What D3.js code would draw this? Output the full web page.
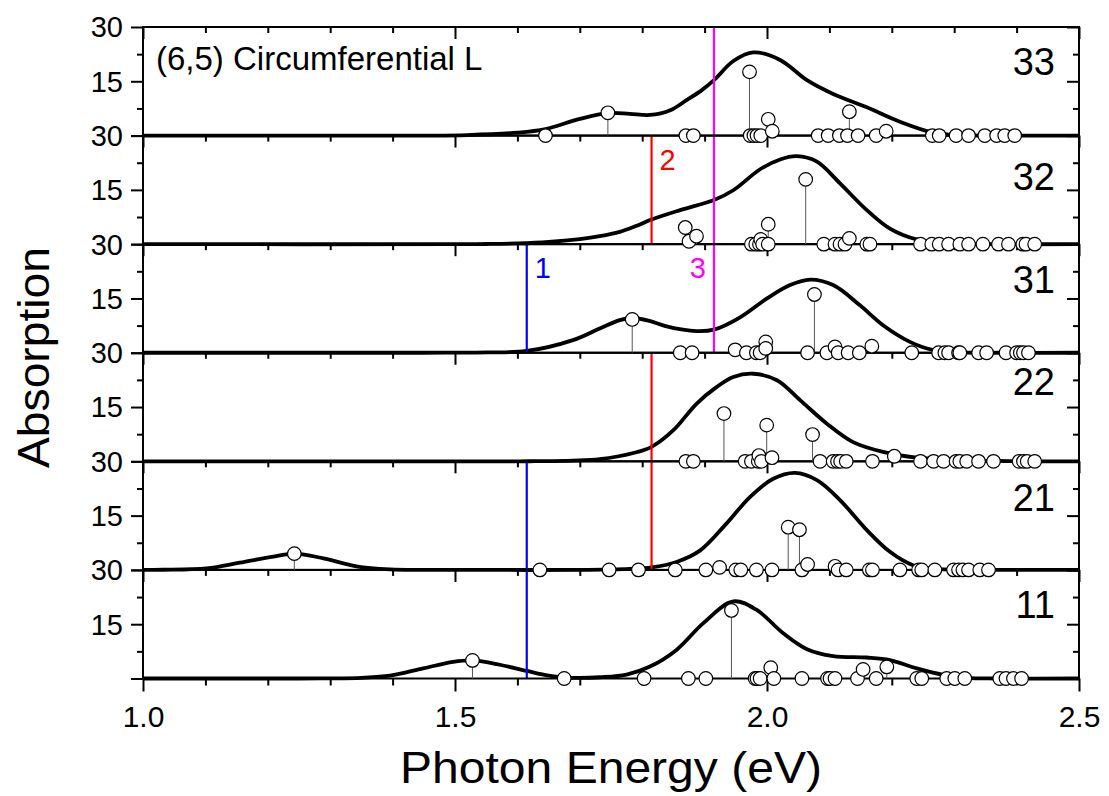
<!DOCTYPE html>
<html>
<head>
<meta charset="utf-8">
<script src="https://cdn.jsdelivr.net/npm/d3@7"></script>
<style>
  body { margin: 0; background: #fff; }
  text { font-family: Arial, "Liberation Sans", sans-serif; }
</style>
</head>
<body>
<svg id="chart" width="1109" height="796"></svg>
<script>
// Transition labels of the stacked panels, top to bottom
const panels = ["33", "32", "31", "22", "21", "11"];

// Broadened absorption curves: [photon energy (eV), absorption]
const curve33 = [[1.0,0],[1.40,0],[1.46,0],[1.52,0.15],[1.60,0.8],[1.645,1.8],[1.70,4.6],[1.745,6.2],[1.78,6.0],[1.8125,5.7],[1.845,7.0],[1.871,9.8],[1.895,12.5],[1.915,15.3],[1.946,20.6],[1.978,23.0],[2.021,20.9],[2.064,15.3],[2.106,11.5],[2.160,7.8],[2.213,3.8],[2.266,0.8],[2.31,0.1],[2.36,0],[2.5,0]];
const curve32 = [[1.0,0],[1.50,0],[1.55,0.05],[1.60,0.2],[1.65,0.6],[1.70,1.4],[1.732,2.2],[1.764,3.4],[1.79,5.0],[1.815,6.8],[1.861,9.4],[1.915,12.2],[1.946,14.9],[1.989,20.7],[2.021,23.4],[2.048,24.3],[2.080,22.8],[2.117,16.8],[2.160,9.4],[2.197,4.3],[2.240,1.3],[2.293,0.1],[2.34,0],[2.5,0]];
const curve31 = [[1.0,0],[1.45,0],[1.50,0.02],[1.551,0.1],[1.615,0.5],[1.689,3.5],[1.732,6.7],[1.764,9.0],[1.784,9.6],[1.81,8.9],[1.839,7.3],[1.887,6.0],[1.915,6.4],[1.957,9.8],[2.0,15.0],[2.037,18.7],[2.069,20.2],[2.106,18.7],[2.149,13.1],[2.186,7.6],[2.229,3.0],[2.267,0.7],[2.31,0.1],[2.36,0],[2.5,0]];
const curve22 = [[1.0,0],[1.57,0],[1.62,0.02],[1.689,0.2],[1.732,0.6],[1.786,2.3],[1.815,4.0],[1.850,8.6],[1.887,15.9],[1.919,20.5],[1.946,23.3],[1.978,24.2],[2.016,22.4],[2.053,16.9],[2.096,10.4],[2.138,5.3],[2.186,2.6],[2.240,1.0],[2.293,0.5],[2.373,0.1],[2.43,0],[2.5,0]];
const curve21 = [[1.0,0],[1.032,0.05],[1.102,0.45],[1.155,2.0],[1.209,3.7],[1.244,4.5],[1.289,3.2],[1.342,1.0],[1.396,0.15],[1.45,0.01],[1.55,0],[1.70,0.02],[1.78,0.3],[1.815,0.7],[1.855,2.2],[1.893,5.4],[1.935,12.8],[1.973,20.2],[2.010,25.2],[2.045,26.8],[2.080,24.8],[2.117,19.3],[2.160,11.0],[2.197,5.0],[2.234,1.3],[2.267,0.3],[2.32,0.02],[2.38,0],[2.5,0]];
const curve11 = [[1.0,0],[1.25,0],[1.30,0.03],[1.35,0.2],[1.396,0.8],[1.449,2.8],[1.497,4.6],[1.529,5.0],[1.572,3.8],[1.615,2.1],[1.65,0.8],[1.674,0.3],[1.70,0.15],[1.732,0.35],[1.775,1.1],[1.8125,3.3],[1.855,7.9],[1.898,15.3],[1.946,21.3],[1.983,19.0],[2.026,12.5],[2.064,8.1],[2.106,6.2],[2.160,5.8],[2.197,5.1],[2.240,2.8],[2.283,1.0],[2.320,0.15],[2.37,0],[2.5,0]];

// Individual transitions (stick spectrum): [photon energy (eV), strength]
const sticks33 = [[1.645,0],[1.745,6.3],[1.870,0],[1.882,0],[1.972,17.6],[1.973,0],[1.979,0],[1.984,0],[1.990,0],[2.002,4.5],[2.0085,1.2],[2.082,0],[2.098,0],[2.116,0],[2.129,0],[2.132,6.6],[2.146,0],[2.175,0],[2.191,1.2],[2.265,0],[2.276,0],[2.303,0],[2.323,0],[2.349,0],[2.368,0],[2.381,0],[2.397,0]];
const sticks32 = [[1.869,4.6],[1.875,0.8],[1.887,2.2],[1.975,0],[1.982,0],[1.988,0],[1.990,1.3],[1.993,0],[2.002,0],[2.002,5.5],[2.062,17.9],[2.091,0],[2.109,0],[2.117,0],[2.125,0],[2.132,1.6],[2.160,0],[2.165,0],[2.246,0],[2.264,0],[2.276,0],[2.291,0],[2.309,0],[2.323,0],[2.346,0],[2.371,0],[2.387,0],[2.410,0],[2.415,0],[2.429,0]];
const sticks31 = [[1.784,9.2],[1.861,0],[1.880,0],[1.949,0.8],[1.967,0],[1.983,0],[1.989,0],[1.998,3.0],[1.998,1.2],[2.065,0],[2.076,16.1],[2.096,0],[2.109,1.6],[2.114,0],[2.130,0],[2.148,0],[2.168,1.8],[2.232,0],[2.275,0],[2.285,0],[2.291,0],[2.307,0],[2.309,0],[2.339,0],[2.352,0],[2.383,0],[2.400,0],[2.406,0],[2.411,0],[2.419,0]];
const sticks22 = [[1.870,0],[1.882,0],[1.931,13.2],[1.965,0],[1.975,0],[1.986,0],[1.987,1.6],[1.991,0],[1.9995,10.0],[2.008,1.0],[2.073,7.4],[2.085,0],[2.106,0],[2.113,0],[2.118,0],[2.127,0],[2.169,0],[2.204,1.4],[2.246,0],[2.267,0],[2.283,0],[2.303,0],[2.309,0],[2.320,0],[2.339,0],[2.363,0],[2.404,0],[2.411,0],[2.417,0],[2.429,0]];
const sticks21 = [[1.2425,4.5],[1.636,0],[1.747,0],[1.794,0],[1.853,0],[1.902,0],[1.924,0.7],[1.950,0],[1.958,0],[1.983,0],[2.008,0],[2.034,11.8],[2.052,11.1],[2.056,0],[2.065,1.5],[2.109,1.0],[2.114,0],[2.127,0],[2.164,0],[2.169,0],[2.213,0],[2.243,0],[2.248,0],[2.269,0],[2.299,0],[2.307,0],[2.314,0],[2.323,0],[2.341,0],[2.355,0]];
const sticks11 = [[1.528,5.0],[1.675,0],[1.803,0],[1.874,0],[1.902,0],[1.943,18.8],[1.981,0],[1.984,0],[1.989,0],[2.006,3.0],[2.011,0],[2.056,0],[2.097,0],[2.101,0],[2.109,0],[2.145,0],[2.154,2.5],[2.175,0],[2.192,3.2],[2.240,0],[2.248,0],[2.288,0],[2.301,0],[2.317,0],[2.373,0],[2.383,0],[2.395,0],[2.408,0]];

// Axis ticks
const xTickLabels = [1.0, 1.5, 2.0, 2.5];
const xMinorTicks = [1.1, 1.2, 1.3, 1.4, 1.6, 1.7, 1.8, 1.9, 2.1, 2.2, 2.3, 2.4];
const yTickLabels = [15, 30];
const yMinorTicks = [7.5, 22.5];

// Reference energies drawn as vertical markers
const markerLabels = ["1", "2", "3"];
const markerEnergy = [1.615, 1.815, 1.915];
const markerPanels = [["31", "21", "11"], ["32", "22", "21"], ["33", "32", "31"]];
const markerTextPanel = ["31", "32", "31"];

const titleText = "(6,5) Circumferential L";

// ---- drawing ----
const curves = { "33": curve33, "32": curve32, "31": curve31, "22": curve22, "21": curve21, "11": curve11 };
const sticks = { "33": sticks33, "32": sticks32, "31": sticks31, "22": sticks22, "21": sticks21, "11": sticks11 };
const markerColor = ["#0000ff", "#ff0000", "#ff00ff"];
const labelDy = { "33": 48, "32": 54.5, "31": 49, "22": 42.5, "21": 49.5, "11": 48 };

const svg = d3.select("#chart");
const L = 143, R = 1079, T = 27, B = 678.5;
const ph = (B - T) / panels.length;

const x = d3.scaleLinear().domain([1.0, 2.5]).range([L, R]);
const yFor = i => d3.scaleLinear().domain([0, 30]).range([T + (i + 1) * ph, T + i * ph]);

const line = y => d3.line().x(d => x(d[0])).y(d => Math.min(y(d[1]), y(0))).curve(d3.curveCatmullRom.alpha(0.5));

const gCurves = svg.append("g");
const gMarkers = svg.append("g");
const gAxes = svg.append("g");
const gSticks = svg.append("g");

function styleAxis(g) {
  g.select(".domain").remove();
  g.selectAll(".tick line").attr("stroke", "#000").attr("stroke-width", 2);
  g.selectAll(".tick text").attr("fill", "#000").style("font-family", "Arial, 'Liberation Sans', sans-serif");
}

panels.forEach((p, i) => {
  const y = yFor(i);
  const top = T + i * ph;

  // curve
  gCurves.append("path")
    .datum(curves[p])
    .attr("d", line(y))
    .attr("fill", "none")
    .attr("stroke", "#000")
    .attr("stroke-width", 3.8)
    .attr("stroke-linejoin", "round");

  // left axis (outward ticks)
  gAxes.append("g").attr("transform", `translate(${L},0)`)
    .call(d3.axisLeft(y).tickValues([0, ...yTickLabels]).tickSize(12).tickPadding(8)
      .tickFormat(d => d === 0 ? "" : d3.format("d")(d)))
    .call(styleAxis)
    .call(g => g.selectAll(".tick text").attr("font-size", 29).attr("dy", "0.34em"));
  gAxes.append("g").attr("transform", `translate(${L},0)`)
    .call(d3.axisLeft(y).tickValues(yMinorTicks).tickSize(6).tickFormat(""))
    .call(styleAxis);

  // right axis (inward ticks)
  gAxes.append("g").attr("transform", `translate(${R},0)`)
    .call(d3.axisRight(y).tickValues([0, ...yTickLabels]).tickSize(-12).tickFormat(""))
    .call(styleAxis);
  gAxes.append("g").attr("transform", `translate(${R},0)`)
    .call(d3.axisRight(y).tickValues(yMinorTicks).tickSize(-6).tickFormat(""))
    .call(styleAxis);

  // top axis of each panel (inward ticks)
  gAxes.append("g").attr("transform", `translate(0,${top})`)
    .call(d3.axisBottom(x).tickValues(xTickLabels).tickSize(12).tickFormat(""))
    .call(styleAxis);
  gAxes.append("g").attr("transform", `translate(0,${top})`)
    .call(d3.axisBottom(x).tickValues(xMinorTicks).tickSize(6).tickFormat(""))
    .call(styleAxis);

  // panel frame
  gAxes.append("rect")
    .attr("x", L).attr("y", top).attr("width", R - L).attr("height", ph)
    .attr("fill", "none").attr("stroke", "#000").attr("stroke-width", 2);

  // panel label
  gAxes.append("text")
    .attr("x", 1055).attr("y", top + labelDy[p])
    .attr("text-anchor", "end").attr("font-size", 38).attr("fill", "#000")
    .text(p);

  // stems and circles
  const s = gSticks.append("g");
  s.selectAll("line").data(sticks[p].filter(d => d[1] > 0)).join("line")
    .attr("x1", d => x(d[0])).attr("x2", d => x(d[0]))
    .attr("y1", y(0)).attr("y2", d => y(d[1]))
    .attr("stroke", "#555").attr("stroke-width", 1);
  s.selectAll("circle").data(sticks[p]).join("circle")
    .attr("cx", d => x(d[0])).attr("cy", d => y(d[1]))
    .attr("r", 6.8)
    .attr("fill", "#fff").attr("stroke", "#000").attr("stroke-width", 1.2);
});

// bottom axis with labels
gAxes.append("g").attr("transform", `translate(0,${B})`)
  .call(d3.axisBottom(x).tickValues(xTickLabels).tickSize(13).tickPadding(14).tickFormat(d3.format(".1f")))
  .call(styleAxis)
  .call(g => g.selectAll(".tick text").attr("font-size", 30));
gAxes.append("g").attr("transform", `translate(0,${B})`)
  .call(d3.axisBottom(x).tickValues(xMinorTicks).tickSize(7).tickFormat(""))
  .call(styleAxis);

// vertical reference markers
markerLabels.forEach((lab, k) => {
  markerPanels[k].forEach(p => {
    const i = panels.indexOf(p);
    const y = yFor(i);
    gMarkers.append("line")
      .attr("x1", x(markerEnergy[k])).attr("x2", x(markerEnergy[k]))
      .attr("y1", y(30)).attr("y2", y(0))
      .attr("stroke", markerColor[k]).attr("stroke-width", 2.2);
  });
  const ti = panels.indexOf(markerTextPanel[k]);
  const top = T + ti * ph;
  const leftSide = lab === "3";
  gMarkers.append("text")
    .attr("x", x(markerEnergy[k]) + (leftSide ? -8 : 8))
    .attr("y", top + 34)
    .attr("text-anchor", leftSide ? "end" : "start")
    .attr("font-size", 29)
    .attr("fill", markerColor[k])
    .text(lab);
});

// panel title
svg.append("text")
  .attr("x", 156).attr("y", 69.5)
  .attr("font-size", 33).attr("fill", "#000")
  .text(titleText);

// axis titles
svg.append("text")
  .attr("transform", `translate(49,357.5) rotate(-90)`)
  .attr("text-anchor", "middle")
  .attr("font-size", 45)
  .attr("textLength", 221).attr("lengthAdjust", "spacingAndGlyphs")
  .attr("fill", "#000")
  .text("Absorption");

svg.append("text")
  .attr("x", 611).attr("y", 783)
  .attr("text-anchor", "middle")
  .attr("font-size", 45)
  .attr("textLength", 422).attr("lengthAdjust", "spacingAndGlyphs")
  .attr("fill", "#000")
  .text("Photon Energy (eV)");
</script>
</body>
</html>
